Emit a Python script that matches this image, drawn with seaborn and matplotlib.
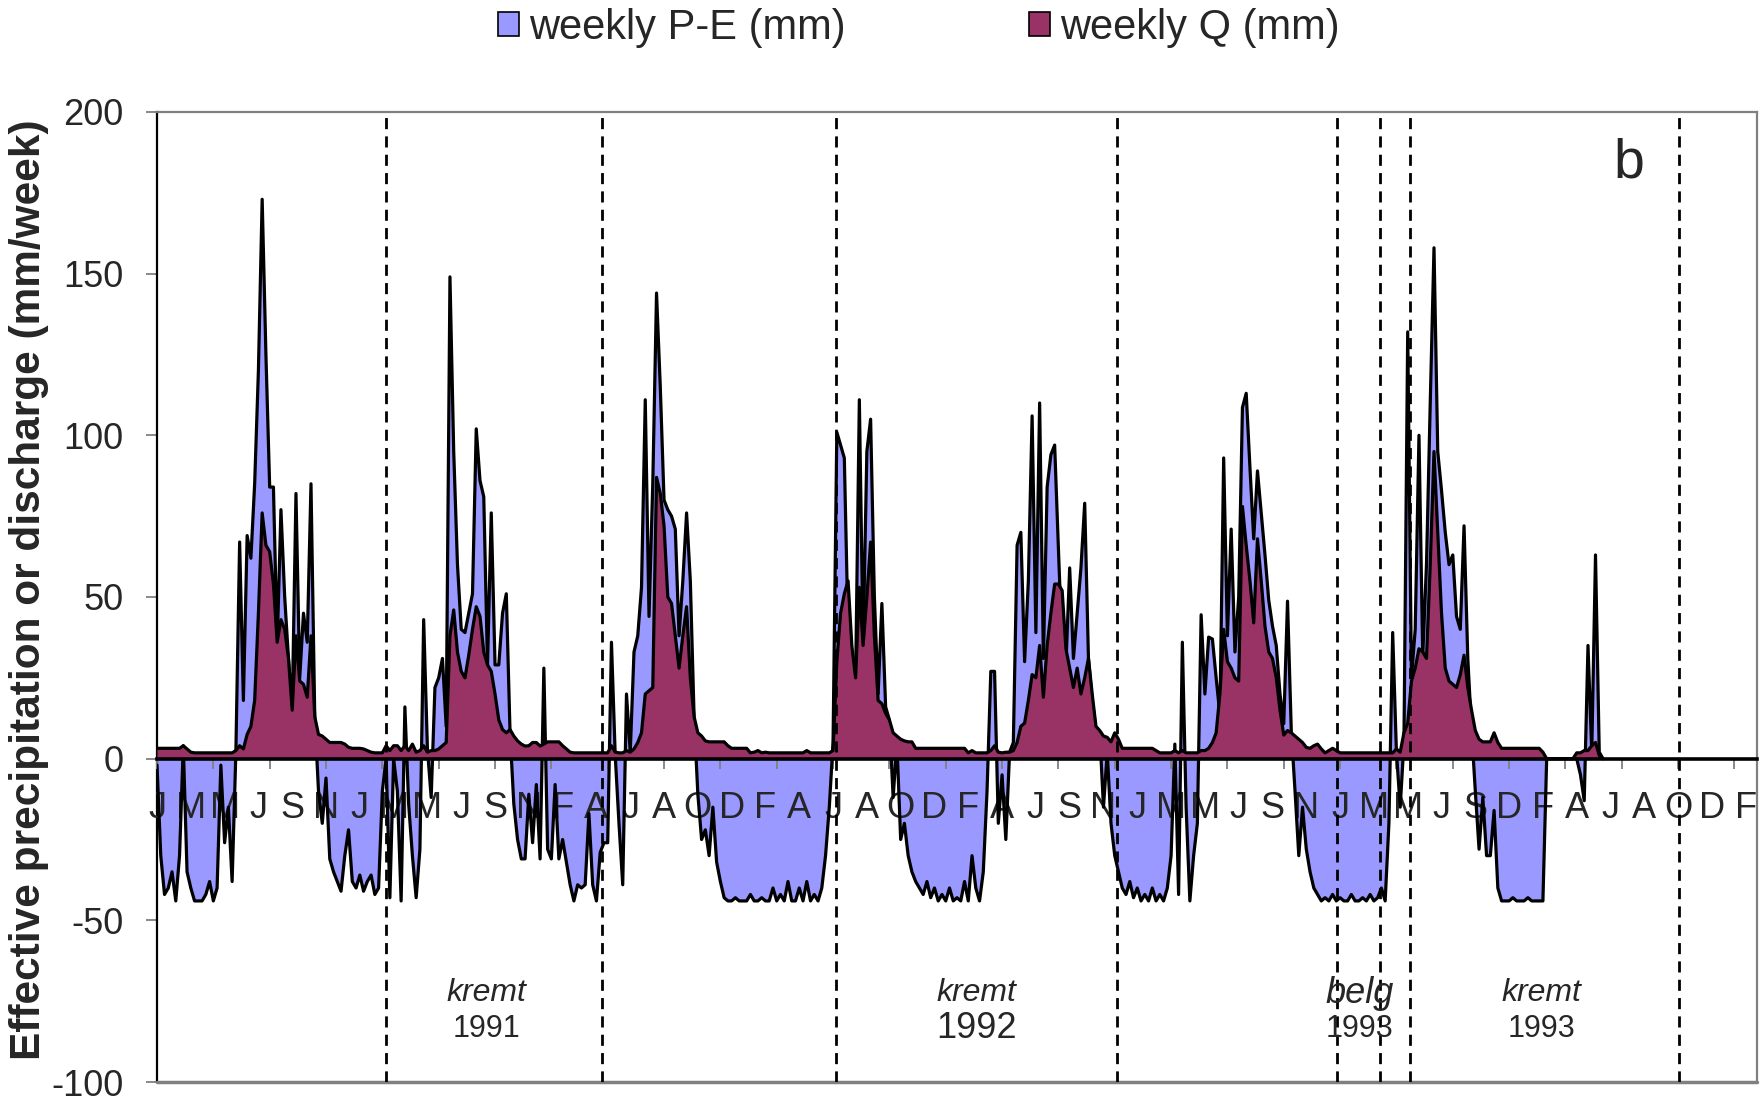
import numpy as np
import matplotlib
matplotlib.use("Agg")
import matplotlib.pyplot as plt
import seaborn as sns
from matplotlib.patches import Patch
from matplotlib.ticker import FixedLocator

# weekly effective precipitation P-E (mm), one value per week from week 0
pe = [
    -2, -30, -42, -40, -35, -44, -30, 4, -35, -40,
    -44, -44, -44, -42, -38, -44, -40, -2, -26, -15,
    -38, 2, 67, 18, 69, 62, 85, 120, 173, 125,
    84, 84, 35, 77, 50, 31, 15, 82, 25, 45,
    36, 85, 13, -10, -20, -6, -31, -35, -38, -41,
    -30, -22, -38, -40, -36, -41, -38, -36, -42, -40,
    -10, 0, -43, 0, -10, -44, 16, -14, -30, -43,
    -28, 43, 3, -12, 22, 25, 31, 10, 149, 95,
    60, 40, 39, 45, 51, 102, 86, 81, 29, 76,
    29, 29, 45, 51, 8, -14, -25, -31, -31, -11,
    -26, -8, -31, 28, -28, -31, -8, -31, -25, -32,
    -39, -44, -39, -40, -39, -17, -39, -44, -29, -26,
    -26, 36, 1, -20, -39, 20, 2, 33, 38, 53,
    111, 44, 85, 144, 115, 80, 77, 75, 71, 38,
    55, 76, 55, 13, -11, -25, -22, -30, -15, -32,
    -38, -43, -44, -44, -43, -44, -44, -44, -42, -44,
    -44, -43, -44, -44, -40, -44, -42, -44, -38, -44,
    -44, -40, -44, -38, -44, -42, -44, -40, -30, -15,
    5, 101, 97, 93, 40, 27, 24, 111, 35, 95,
    105, 50, 20, 48, 16, 12, -12, 5, -25, -20,
    -30, -35, -38, -40, -42, -38, -43, -40, -44, -42,
    -44, -40, -44, -43, -44, -38, -44, -30, -40, -44,
    -35, -10, 27, 27, -20, -5, -25, 2, 5, 66,
    70, 30, 55, 106, 39, 110, 31, 84, 94, 97,
    65, 34, 29, 59, 31, 45, 59, 79, 31, 18,
    9, 8, -15, 2, -20, -30, -35, -40, -42, -38,
    -43, -40, -44, -42, -44, -40, -44, -42, -44, -40,
    -30, 4.5, -42, 36, -15, -44, -30, -20, 44.5, 20,
    37.6, 37, 25, 13.5, 93, 38, 71, 33, 50, 108.6,
    113, 90, 68, 89, 76, 63, 49, 41, 35, 20,
    10.8, 48.7, 8.7, -10, -30, -15, -28, -35, -40, -42,
    -44, -43, -44, -42, -44, -43, -44, -44, -42, -44,
    -44, -43, -44, -42, -44, -43, -40, -44, -20, 39,
    2, -15, 5, 132, 25, 40, 100, 32, 60, 110,
    158, 95, 83, 70, 60, 63, 44, 40, 72, 31,
    9, -10, -28, -12, -30, -30, -16, -40, -44, -44,
    -44, -43, -44, -44, -44, -43, -44, -44, -44, -44,
    0, 0, 0, 0, 0, 0, 0, 0, 0, -5,
    -13, 35, 2, 63, 2, 0,
]

# weekly discharge Q (mm), same weeks
q = [
    3.2, 3.2, 3.2, 3.2, 3.2, 3.2, 3.2, 4, 3, 2,
    1.8, 1.8, 1.8, 1.8, 1.8, 1.8, 1.8, 1.8, 1.8, 1.8,
    1.8, 2.5, 4, 3, 7.5, 10, 18, 45, 76, 66,
    64, 54, 36, 43, 40, 31, 15, 38, 24, 23,
    19, 38, 13, 7.5, 7, 6, 5, 5, 5, 5,
    4.5, 3.5, 3.2, 3.2, 3.2, 3, 2.5, 2, 1.8, 1.8,
    1.8, 4, 2.5, 4, 4, 2.5, 4, 2.5, 4.5, 2,
    2.5, 4, 2, 2.5, 2.5, 3, 4, 5, 38, 46,
    33, 27, 25, 32, 40, 47, 44, 33, 29, 27,
    20, 12, 9, 8, 9, 7, 5.5, 4.5, 3.9, 4,
    5, 5, 3.9, 4.5, 5.2, 5.2, 5.2, 5.2, 4, 3,
    2, 1.8, 1.8, 1.8, 1.8, 1.8, 1.8, 1.8, 1.8, 1.8,
    1.8, 4, 2, 1.8, 1.8, 2.5, 2, 3, 5, 8,
    20, 21, 22, 87, 82, 72, 50, 48, 38, 28,
    38, 47, 25, 13, 8, 7, 5.5, 5.2, 5.2, 5.2,
    5.2, 5.2, 4, 3.2, 3.2, 3.2, 3.2, 3.2, 1.8, 2,
    2.5, 1.8, 2, 1.8, 1.8, 1.8, 1.8, 1.8, 1.8, 1.8,
    1.8, 1.8, 1.8, 2.5, 1.8, 1.8, 1.8, 1.8, 1.8, 1.8,
    2.5, 30, 45, 51, 55, 35, 25, 53, 35, 50,
    67, 38, 18, 17, 14, 12, 8, 7, 6, 5.5,
    5.2, 5.2, 3.2, 3.2, 3.2, 3.2, 3.2, 3.2, 3.2, 3.2,
    3.2, 3.2, 3.2, 3.2, 3.2, 3.2, 1.8, 2.5, 1.8, 1.8,
    1.8, 1.8, 2.5, 4, 2, 1.8, 2, 2, 2.5, 5,
    10, 11, 18, 26, 25, 35, 19, 35, 45, 54,
    54, 52, 34, 28, 22, 28, 20, 25, 31, 20,
    10, 8.7, 7, 6.6, 5.2, 8, 6, 3.2, 3.2, 3.2,
    3.2, 3.2, 3.2, 3.2, 3.2, 3.2, 2.5, 1.8, 1.8, 1.8,
    1.8, 2.5, 1.8, 2.5, 1.8, 1.8, 1.8, 1.8, 2.5, 2.5,
    3.2, 5, 8, 20, 40, 30, 28, 25, 24, 78,
    66, 55, 42, 68, 55, 41, 33, 31, 25, 15,
    7.3, 8.7, 8, 7, 6, 5, 3.5, 3.2, 4, 4.5,
    3, 1.8, 2.5, 3.2, 2.5, 1.8, 1.8, 1.8, 1.8, 1.8,
    1.8, 1.8, 1.8, 1.8, 1.8, 1.8, 1.8, 1.8, 1.8, 1.8,
    3, 2, 8, 11, 24, 28, 34, 33, 31, 60,
    95, 70, 45, 28, 24, 23, 22, 26, 32, 22,
    15, 8.7, 6, 5.2, 5.2, 5.2, 8, 5, 3.2, 3.2,
    3.2, 3.2, 3.2, 3.2, 3.2, 3.2, 3.2, 3.2, 3.2, 2,
    0, 0, 0, 0, 0, 0, 0, 0, 1.8, 1.8,
    2.5, 2.5, 4, 5, 1, 0,
]

# category axis: a month letter every 9 weeks, tick marks every 15 weeks
month_labels = ["J", "M", "M", "J", "S", "N", "J", "M", "M", "J", "S", "N",
                "F", "A", "J", "A", "O", "D", "F", "A", "J", "A", "O", "D",
                "F", "A", "J", "S", "N", "J", "M", "M", "J", "S", "N", "J",
                "M", "M", "J", "S", "D", "F", "A", "J", "A", "O", "D", "F"]
label_every = 9
tick_every = 15
n_weeks = 427

# season boundaries (week positions) and season captions
season_bounds = [61.0, 118.4, 180.9, 255.6, 314.2, 325.6, 333.6, 405.1]
season_names = ["kremt", "kremt", "belg", "kremt"]
season_years = ["1991", "1992", "1993", "1993"]
season_weeks = [87.6, 218.2, 320.2, 368.6]

PE_COLOR = "#9999FF"
Q_COLOR = "#993366"
GREY = "#808080"

sns.set_theme(style="white")
plt.rcParams["font.family"] = ["Liberation Sans", "DejaVu Sans"]
plt.rcParams["axes.unicode_minus"] = False

fig = plt.figure(figsize=(17.6, 11.01), dpi=100)
ax = fig.add_axes([157 / 1760, 19 / 1101, 1600 / 1760, 970 / 1101])

weeks = np.arange(len(pe))
ax.fill_between(weeks, pe, 0, color=PE_COLOR, lw=0, zorder=2)
sns.lineplot(x=weeks, y=pe, color="black", lw=2.3, ax=ax, zorder=3)
ax.fill_between(weeks, q, 0, color=Q_COLOR, lw=0, zorder=4)
sns.lineplot(x=weeks, y=q, color="black", lw=2.3, ax=ax, zorder=5)

ax.set_xlim(0, n_weeks - 1)
ax.set_ylim(-100, 200)

# category axis crosses at zero
ax.spines["bottom"].set_position(("data", 0))
ax.spines["bottom"].set_color("black")
ax.spines["bottom"].set_linewidth(2.6)
ax.spines["bottom"].set_zorder(6)
ax.spines["left"].set_color("black")
ax.spines["left"].set_linewidth(1.6)
for side in ["top", "right"]:
    ax.spines[side].set_color(GREY)
    ax.spines[side].set_linewidth(1.6)
ax.axhline(-100, color=GREY, lw=2.5, clip_on=False, zorder=6)

ax.set_yticks(np.arange(-100, 201, 50))
ax.tick_params(axis="y", left=True, direction="out", length=8, width=1.3,
               color=GREY, labelsize=26, pad=16)

ax.xaxis.remove_overlapping_locs = False
ax.xaxis.set_major_locator(FixedLocator(np.arange(len(month_labels)) * label_every))
ax.set_xticklabels(month_labels)
ax.xaxis.set_minor_locator(FixedLocator(np.arange(0, n_weeks, tick_every)))
ax.tick_params(axis="x", which="major", bottom=True, length=0, labelsize=26, pad=23)
ax.tick_params(axis="x", which="minor", bottom=True, direction="out", length=7,
               width=1.3, color=GREY)
# month letters sit above the blue fill but under the outlines
ax.xaxis.set_zorder(2.5)

ax.set_ylabel("Effective precipitation or discharge (mm/week)",
              fontsize=30.5, fontweight="bold")
ax.yaxis.set_label_coords(-0.0672, 0.508)

for b in season_bounds:
    ax.axvline(b, color="black", lw=2.0, ls=(0, (4, 2.6)), zorder=7)

for name, year, wk in zip(season_names, season_years, season_weeks):
    big = name == "belg"
    ax.text(wk, -72.5, name, style="italic", fontsize=26 if big else 23,
            ha="center", va="center", zorder=8)
    ax.text(wk, -83.5, year, fontsize=26 if wk == season_weeks[1] else 22,
            ha="center", va="center", zorder=8)

ax.text(391.9, 184, "b", fontsize=40, ha="center", va="center")

handles = [Patch(facecolor=PE_COLOR, edgecolor="black", lw=1.2, label="weekly P-E (mm)"),
           Patch(facecolor=Q_COLOR, edgecolor="black", lw=1.2, label="weekly Q (mm)")]
fig.legend(handles=handles, loc="center", bbox_to_anchor=(0.522, 0.975), ncol=2,
           frameon=False, fontsize=30, handlelength=0.5, handleheight=0.5,
           handletextpad=0.25, columnspacing=4.4)

fig.savefig("out.png", dpi=100)
